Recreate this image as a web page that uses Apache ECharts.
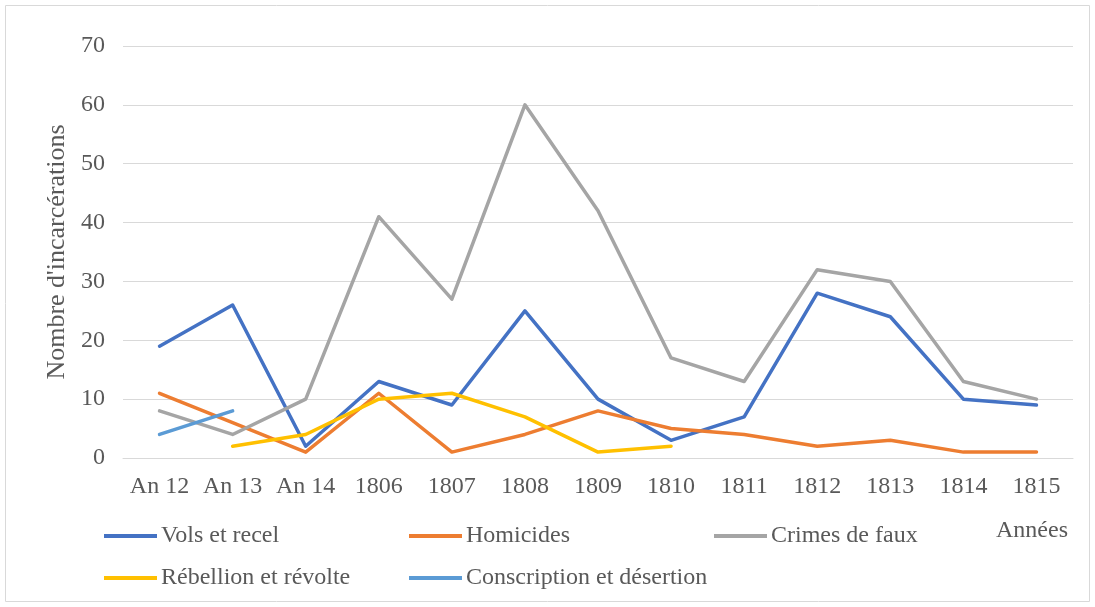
<!DOCTYPE html>
<html><head><meta charset="utf-8">
<script src="https://cdn.jsdelivr.net/npm/echarts@6/dist/echarts.min.js"></script>
<style>html,body{margin:0;padding:0;background:#fff}#c{width:1095px;height:607px}</style>
</head><body><div id="c"></div>
<script>
const categories = ['An 12','An 13','An 14','1806','1807','1808','1809','1810','1811','1812','1813','1814','1815'];
const vols = [19,26,2,13,9,25,10,3,7,28,24,10,9];
const homicides = [11,6,1,11,1,4,8,5,4,2,3,1,1];
const faux = [8,4,10,41,27,60,42,17,13,32,30,13,10];
const rebellion = [null,2,4,10,11,7,1,2,null,null,null,null,null];
const conscription = [4,8,null,null,null,null,null,null,null,null,null,null,null];
const yTicks = [0,10,20,30,40,50,60,70];

const names = ['Vols et recel','Homicides','Crimes de faux','Rébellion et révolte','Conscription et désertion'];
const colors = ['#4472C4','#ED7D31','#A5A5A5','#FFC000','#5B9BD5'];
const datas = [vols,homicides,faux,rebellion,conscription];
const font = 'Liberation Serif';
const txt = '#595959';
const legendPos = [[104,524],[409,524],[714,524],[104,566],[409,566]];

const chart = echarts.init(document.getElementById('c'));
chart.setOption({
  animation:false,
  textStyle:{fontFamily:font},
  graphic:[
    {type:'rect',shape:{x:5.5,y:5.5,width:1084,height:596},style:{fill:'none',stroke:'#d9d9d9',lineWidth:1}},
    {type:'text',left:996,top:519,style:{text:'Années',font:'24px "Liberation Serif"',fill:txt}}
  ],
  legend: names.map((n,i)=>({
    data:[n], left:legendPos[i][0], top:legendPos[i][1], padding:0,
    icon:'rect', itemWidth:53, itemHeight:4, itemGap:0,
    textStyle:{fontFamily:font,fontSize:24,color:txt,padding:[0,0,0,-1]}
  })),
  grid:{left:123,right:22,top:46,bottom:149,containLabel:false},
  xAxis:{
    type:'category', data:categories, boundaryGap:true,
    axisLine:{lineStyle:{color:'#d9d9d9',width:1}},
    axisTick:{show:false},
    axisLabel:{fontFamily:font,fontSize:24,color:txt,margin:17,interval:0,hideOverlap:false}
  },
  yAxis:{
    type:'value', min:0, max:70, interval:10,
    name:"Nombre d'incarcérations", nameLocation:'middle', nameGap:53,
    nameTextStyle:{fontFamily:font,fontSize:26,color:txt},
    axisLine:{show:false}, axisTick:{show:false},
    axisLabel:{fontFamily:font,fontSize:24,color:txt,margin:18,
      formatter:v=>yTicks.includes(v)?String(v):''},
    splitLine:{lineStyle:{color:'#d9d9d9',width:1}}
  },
  series: names.map((n,i)=>({
    name:n, type:'line', data:datas[i], symbol:'none', connectNulls:false,
    lineStyle:{color:colors[i],width:3.5,cap:'round',join:'round'},
    itemStyle:{color:colors[i]}
  }))
});
</script></body></html>
